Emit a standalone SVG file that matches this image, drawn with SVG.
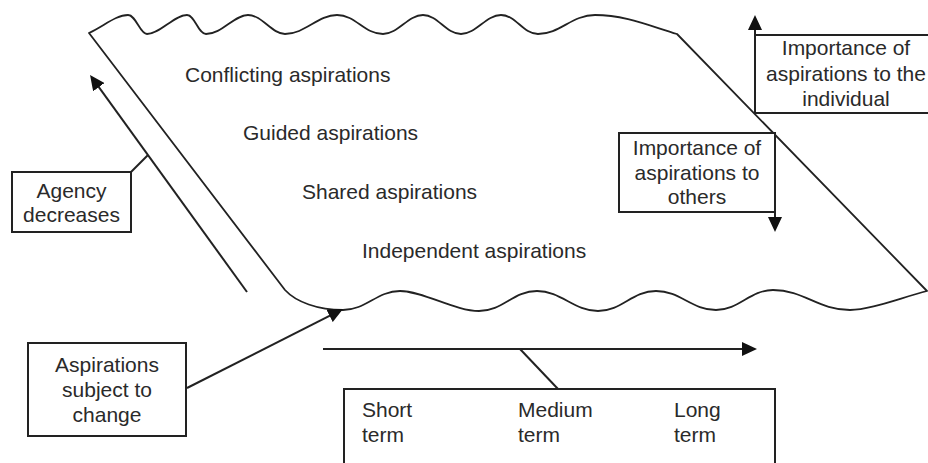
<svg xmlns="http://www.w3.org/2000/svg" width="928" height="463" viewBox="0 0 928 463">
<style>
  .ln{fill:none;stroke:#222;stroke-width:2;stroke-linejoin:round}
  .edge{fill:#fff;stroke:#222;stroke-width:1.8;stroke-linejoin:round}
  .box{fill:#fff;stroke:#222;stroke-width:2}
  .t{font-family:"Liberation Sans",Arial,sans-serif;font-size:21px;fill:#2a2a2a}
  .c{text-anchor:middle}
</style>
<defs>
  <marker id="ah" viewBox="0 0 15 14" refX="12" refY="7" markerWidth="15" markerHeight="14" markerUnits="userSpaceOnUse" orient="auto">
    <path d="M0,0 L15,7 L0,14 Z" fill="#111"/>
  </marker>
</defs>
<rect width="928" height="463" fill="#fff"/>

<g id="aspirations-field">
  <path class="edge" d="M89,33 C104,26 116,15 128,15 C136,15 140,34 147,34 C160,34 174,15 187,15 C195,15 198,34 206,34 C222,34 234,15 248,15 C262,15 272,34 285,34 C305,34 318,15 337,15 C356,15 364,34 383,34 C398,34 408,15 423,15 C438,15 446,34 461,34 C476,34 486,15 501,15 C516,15 523,34 538,34 C560,34 572,15 595,15 C625,15 650,26 677,34 L927,291 C900,298 870,310 850,310 C818,310 804,290 773,290 C750,290 739,310 716,310 C692,310 680,291 656,291 C632,291 622,311 598,311 C574,311 561,291 537,291 C513,291 503,311 479,311 C455,311 423,291 400,291 C377,291 366,310 343,310 C318,310 296,302 285,290 Z"/>
  <text class="t" x="185" y="82">Conflicting aspirations</text>
  <text class="t" x="243" y="140">Guided aspirations</text>
  <text class="t" x="302" y="199">Shared aspirations</text>
  <text class="t" x="362" y="258">Independent aspirations</text>
</g>

<g id="connectors">
  <line class="ln" x1="247" y1="292" x2="91.8" y2="77.4" marker-end="url(#ah)"/>
  <line class="ln" x1="131" y1="172" x2="148" y2="155"/>
  <line class="ln" x1="187" y1="388" x2="340.3" y2="310.4" marker-end="url(#ah)"/>
  <line class="ln" x1="755" y1="113" x2="755" y2="18" marker-end="url(#ah)"/>
  <line class="ln" x1="775" y1="212" x2="775" y2="229" marker-end="url(#ah)"/>
  <line class="ln" x1="323" y1="349" x2="754" y2="349" marker-end="url(#ah)"/>
  <line class="ln" x1="520" y1="349" x2="558" y2="389"/>
</g>

<g id="agency-box">
  <rect class="box" x="12" y="172" width="119" height="60"/>
  <text class="t c" x="71.5" y="198">Agency</text>
  <text class="t c" x="71.5" y="222">decreases</text>
</g>

<g id="change-box">
  <rect class="box" x="28" y="343" width="158" height="93"/>
  <text class="t c" x="107" y="372">Aspirations</text>
  <text class="t c" x="107" y="397">subject to</text>
  <text class="t c" x="107" y="422">change</text>
</g>

<g id="individual-box">
  <rect class="box" x="755" y="35" width="185" height="78"/>
  <text class="t c" x="846" y="55">Importance of</text>
  <text class="t c" x="846" y="80.5">aspirations to the</text>
  <text class="t c" x="846" y="106">individual</text>
</g>

<g id="others-box">
  <rect class="box" x="619" y="133" width="156" height="79"/>
  <text class="t c" x="697" y="155">Importance of</text>
  <text class="t c" x="697" y="179.5">aspirations to</text>
  <text class="t c" x="697" y="204">others</text>
</g>

<g id="term-box">
  <rect class="box" x="344" y="389" width="431" height="90"/>
  <text class="t" x="362" y="417">Short</text>
  <text class="t" x="362" y="442">term</text>
  <text class="t" x="518" y="417">Medium</text>
  <text class="t" x="518" y="442">term</text>
  <text class="t" x="674" y="417">Long</text>
  <text class="t" x="674" y="442">term</text>
</g>
</svg>
